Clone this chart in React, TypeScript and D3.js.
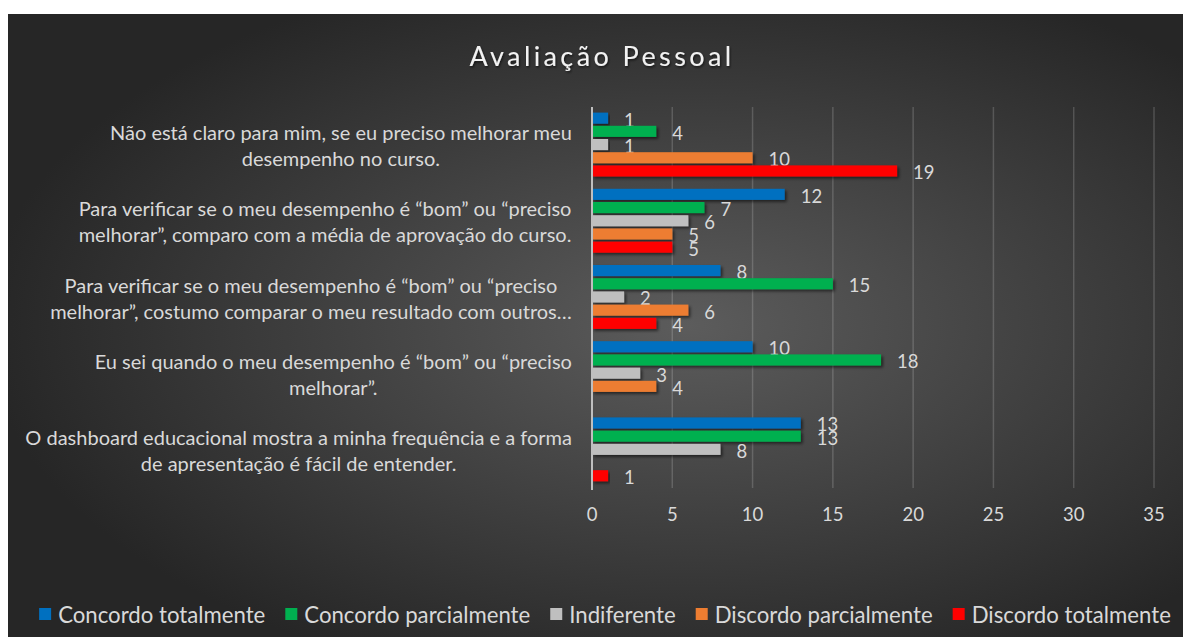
import React, { useMemo } from "react";
import * as d3 from "d3";

const W = 1184;
const H = 637;

const title = "Avaliação Pessoal";

const categories: string[] = [
  "Não está claro para mim, se eu preciso melhorar meu\ndesempenho no curso.",
  "Para verificar se o meu desempenho é “bom” ou “preciso\nmelhorar”, comparo com a média de aprovação do curso.",
  "Para verificar se o meu desempenho é “bom” ou “preciso\nmelhorar”, costumo comparar o meu resultado com outros…",
  "Eu sei quando o meu desempenho é “bom” ou “preciso\nmelhorar”.",
  "O dashboard educacional mostra a minha frequência e a forma\nde apresentação é fácil de entender.",
];

const seriesNames = [
  "Concordo totalmente",
  "Concordo parcialmente",
  "Indiferente",
  "Discordo parcialmente",
  "Discordo totalmente",
];
const seriesColors = ["#0070C0", "#00B050", "#BFBFBF", "#ED7D31", "#FF0000"];

const concordoTotalmente = [1, 12, 8, 10, 13];
const concordoParcialmente = [4, 7, 15, 18, 13];
const indiferente = [1, 6, 2, 3, 8];
const discordoParcialmente: (number | null)[] = [10, 5, 6, 4, null];
const discordoTotalmente: (number | null)[] = [19, 5, 4, null, 1];

const seriesValues: (number | null)[][] = [
  concordoTotalmente,
  concordoParcialmente,
  indiferente,
  discordoParcialmente,
  discordoTotalmente,
];

const xTicks = [0, 5, 10, 15, 20, 25, 30, 35];

const FONT = "Lato, 'Open Sans', sans-serif";

function useMeasure() {
  return useMemo(() => {
    const c = document.createElement("canvas");
    const ctx = c.getContext("2d")!;
    return (text: string, size: number) => {
      ctx.font = `${size}px Lato`;
      return ctx.measureText(text).width;
    };
  }, []);
}

export default function App() {
  const measure = useMeasure();

  const plotLeft = 592;
  const plotRight = 1154;
  const plotTop = 107;
  const plotBottom = 488;

  const x = d3.scaleLinear().domain([0, 35]).range([plotLeft, plotRight]);
  const y0 = d3
    .scaleBand<number>()
    .domain(d3.range(categories.length))
    .range([plotTop, plotBottom])
    .paddingInner(0.134)
    .paddingOuter(0.067);
  const y1 = d3
    .scaleBand<number>()
    .domain(d3.range(seriesNames.length))
    .range([0, y0.bandwidth()])
    .padding(0);
  const barH = y1.bandwidth() * 0.84;

  const catFont = 20;
  const lineGap = 26;
  const labelRight = 572;

  const legendFont = 22.2;
  const sq = 12;
  const sqGap = 7;
  const itemGap = 20;
  const legendWidths = seriesNames.map((s) => sq + sqGap + measure(s, legendFont));
  const legendTotal = d3.sum(legendWidths) + itemGap * (seriesNames.length - 1);
  const legendCenter = 605;
  let lx = legendCenter - legendTotal / 2;
  const legendX = legendWidths.map((w) => {
    const p = lx;
    lx += w + itemGap;
    return p;
  });
  const legendY = 614;

  return (
    <svg
      width={W}
      height={H}
      style={{ position: "absolute", left: 0, top: 0, display: "block" }}
      fontFamily={FONT}
    >
      <defs>
        <radialGradient id="bg" cx="0.58" cy="0.5" r="0.6">
          <stop offset="0%" stopColor="#5c5c5c" />
          <stop offset="100%" stopColor="#262626" />
        </radialGradient>
        <filter id="sh" x="-5%" y="-40%" width="115%" height="200%">
          <feDropShadow dx="2" dy="2" stdDeviation="1.5" floodColor="#000" floodOpacity="0.55" />
        </filter>
        <filter id="tsh" x="-5%" y="-20%" width="110%" height="160%">
          <feDropShadow dx="1" dy="1.5" stdDeviation="1" floodColor="#000" floodOpacity="0.6" />
        </filter>
      </defs>
      <rect x={0} y={0} width={W} height={H} fill="#ffffff" />
      <rect x={8} y={14} width={1175} height={H - 14} fill="url(#bg)" />

      <text
        x={602}
        y={55}
        textAnchor="middle"
        dominantBaseline="central"
        fontSize={27}
        letterSpacing={3.4}
        fill="#f2f2f2"
        filter="url(#tsh)"
      >
        {title}
      </text>

      {/* gridlines */}
      {xTicks
        .filter((t) => t !== 0)
        .map((t) => (
          <line
            key={t}
            x1={x(t)}
            x2={x(t)}
            y1={plotTop}
            y2={plotBottom}
            stroke="rgba(255,255,255,0.17)"
            strokeWidth={1.5}
          />
        ))}

      {/* tick labels */}
      {xTicks.map((t) => (
        <text
          key={t}
          x={x(t)}
          y={514}
          textAnchor="middle"
          dominantBaseline="central"
          fontSize={18.5}
          fill="#d9d9d9"
        >
          {t}
        </text>
      ))}

      {/* bars */}
      {categories.map((_, ci) =>
        seriesValues.map((vals, si) => {
          const v = vals[ci];
          if (v == null) return null;
          const yy = (y0(ci) as number) + (y1(si) as number) + 0.5;
          return (
            <g key={`${ci}-${si}`}>
              <rect
                x={x(0)}
                y={yy}
                width={x(v) - x(0)}
                height={barH}
                fill={seriesColors[si]}
                filter="url(#sh)"
              />
              <text
                x={x(v) + 16}
                y={yy + barH / 2 + 1.5}
                dominantBaseline="central"
                fontSize={18.5}
                fill="#d9d9d9"
              >
                {v}
              </text>
            </g>
          );
        })
      )}

      {/* axis line */}
      <line x1={x(0)} x2={x(0)} y1={plotTop} y2={plotBottom + 2} stroke="#bfbfbf" strokeWidth={2} />

      {/* category labels */}
      {categories.map((c, ci) => {
        const lines = c.split("\n");
        const maxW = d3.max(lines, (l) => measure(l, catFont)) || 0;
        const cx = labelRight - maxW / 2;
        const cy = (y0(ci) as number) + y0.bandwidth() / 2;
        const startY = cy - ((lines.length - 1) * lineGap) / 2;
        return (
          <text
            key={ci}
            textAnchor="middle"
            dominantBaseline="central"
            fontSize={catFont}
            fill="#d9d9d9"
          >
            {lines.map((l, li) => (
              <tspan key={li} x={cx} y={startY + li * lineGap}>
                {l}
              </tspan>
            ))}
          </text>
        );
      })}

      {/* legend */}
      {seriesNames.map((s, i) => (
        <g key={s}>
          <rect x={legendX[i]} y={legendY - sq / 2} width={sq} height={sq} fill={seriesColors[i]} />
          <text
            x={legendX[i] + sq + sqGap}
            y={legendY}
            dominantBaseline="central"
            fontSize={legendFont}
            fill="#d9d9d9"
          >
            {s}
          </text>
        </g>
      ))}
    </svg>
  );
}
